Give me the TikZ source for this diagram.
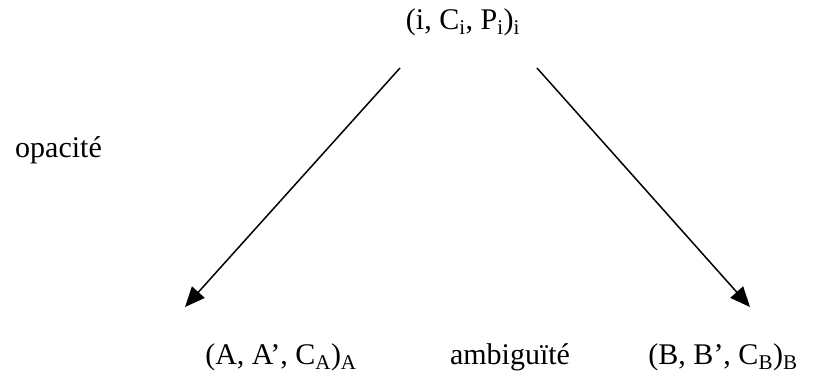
\documentclass[tikz,border=0pt]{standalone}
\usepackage{fontspec}
\setmainfont{Liberation Serif}
\usetikzlibrary{arrows.meta}
\tikzset{
  lbl/.style={inner sep=0pt, font=\fontsize{30}{34}\selectfont},
  arr/.style={line width=1.5pt, -{Triangle[length=20pt,width=17pt]}}
}
\begin{document}
\begin{tikzpicture}[x=1pt,y=-1pt]
\useasboundingbox (0,0) rectangle (823,378);
\node[lbl] (top) at (463,22) {(i, C\textsubscript{i}, P\textsubscript{i})\textsubscript{i}};
\node[lbl, anchor=west] (opac) at (15,150) {opacité};
\node[lbl] (A) at (281,357) {(A, A’, C\textsubscript{A})\textsubscript{A}};
\node[lbl] (amb) at (510,357) {ambiguïté};
\node[lbl] (B) at (723,357) {(B, B’, C\textsubscript{B})\textsubscript{B}};
\coordinate (ls) at (400,68);
\coordinate (le) at (185,307);
\coordinate (rs) at (537,68);
\coordinate (re) at (750,307);
\draw[arr] (ls) -- (le);
\draw[arr] (rs) -- (re);
\end{tikzpicture}
\end{document}
